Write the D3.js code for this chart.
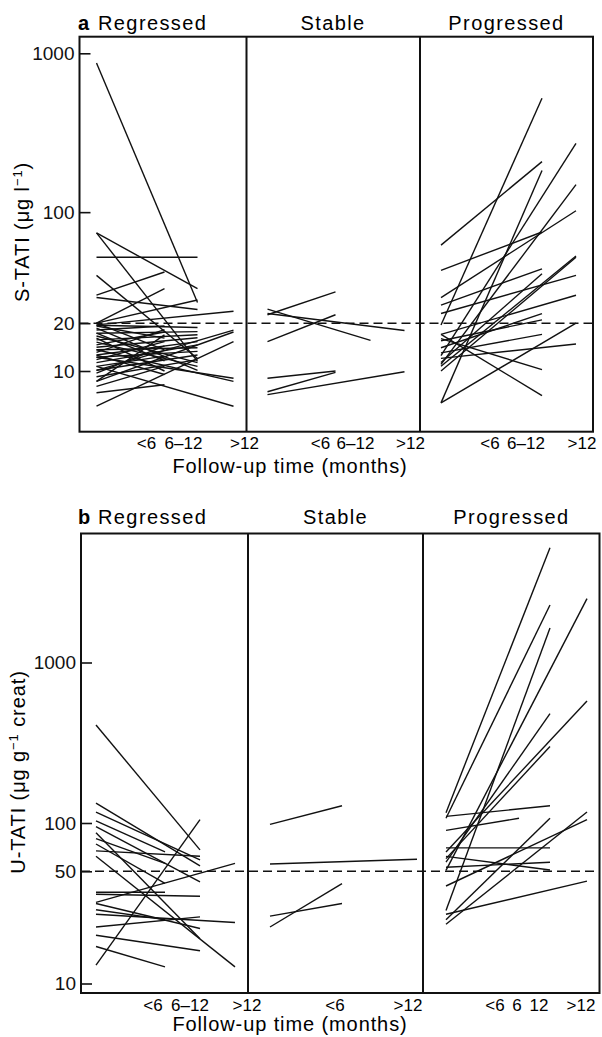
<!DOCTYPE html>
<html>
<head>
<meta charset="utf-8">
<script src="https://cdnjs.cloudflare.com/ajax/libs/d3/7.8.5/d3.min.js"></script>
<style>
  body { margin: 0; background: #fff; }
  svg { display: block; font-family: 'Liberation Sans', Arial, Helvetica, sans-serif; }
</style>
</head>
<body>
<div id="chart"></div>
<script>
// groups and labels
const groups = ['Regressed', 'Stable', 'Progressed']
const followA = ['<6', '6–12', '>12']
const followBReg = ['<6', '6–12', '>12']
const followBStable = ['<6', '>12']
const followBProg = ['<6', '6', '12', '>12']
const ticksA = [10, 20, 100, 1000]
const ticksB = [10, 50, 100, 1000]
const refA = 20
const refB = 50

// each line: [value at start, value at follow-up, follow-up group (0 = <6, 1 = 6-12, 2 = >12)]
const sRegressed = [
  [870, 27, 1], [74, 33, 1], [74, 11.5, 1], [52, 52, 1], [40, 12, 1],
  [29, 24.4, 1], [20, 28, 1], [19.4, 18.8, 1], [18.6, 10.1, 1], [17.3, 17.7, 1],
  [16.6, 11.3, 1], [15.7, 16.9, 1], [15.2, 10.7, 1], [14.1, 16.2, 1], [13.6, 14.0, 1],
  [12.6, 15.3, 1], [12.2, 13.3, 1], [11.3, 14.6, 1], [10.1, 12.6, 1], [9.2, 11.8, 1],
  [30, 42, 0], [20, 33, 0], [7.3, 8.2, 0], [20.0, 13.6, 0], [19.2, 16.1, 0],
  [18.1, 19.2, 0], [16.1, 10.0, 0], [14.6, 17.6, 0], [13.1, 18.2, 0], [11.8, 15.3, 0],
  [10.7, 12.4, 0], [9.7, 14.4, 0], [8.6, 16.9, 0], [8.0, 10.7, 0], [12.6, 9.5, 0],
  [17.3, 11.6, 0],
  [19.5, 23.8, 2], [10.1, 18.1, 2], [8.6, 17.6, 2], [6.0, 15.3, 2], [12.2, 9.0, 2],
  [13.6, 8.6, 2], [10.7, 6.0, 2]
]
const sStable = [
  [22.6, 31.5, 0], [24.5, 15.6, 1], [15.3, 22.6, 0], [23.0, 18.0, 2],
  [9.0, 10.0, 0], [7.4, 9.8, 0], [7.1, 9.9, 2]
]
const sProgressed = [
  [19.5, 521, 1], [62, 208, 1], [6.3, 183, 1], [43, 75, 1], [26, 44, 1],
  [11.3, 41, 1], [14, 23, 1], [13, 17, 1], [16, 10.2, 1], [17, 7.0, 1],
  [15.5, 21, 1],
  [12.5, 271, 2], [11, 149, 2], [29, 102, 2], [10.7, 53, 2], [10, 52, 2],
  [23, 40, 2], [17, 30, 2], [6.3, 20, 2], [12, 14.8, 2]
]
const uRegressed = [
  [408, 68, 1], [13, 105, 1], [17, 12.7, 0], [133, 54, 1], [117, 59, 1],
  [103, 66, 0], [95, 43, 1], [87, 19, 1], [80, 56, 0], [74, 42, 0],
  [67, 62, 1], [62, 12.7, 2], [37, 37, 0], [36, 35, 1], [32, 56, 2],
  [31.5, 22, 1], [28.8, 25, 0], [27, 24, 2], [22.5, 26, 1], [20, 16, 1]
]
const uStable = [
  [98, 128, 0], [55.5, 59.4, 2], [22.5, 41.9, 0], [26.3, 31.5, 0]
]
const uProgressed = [
  [116, 5190, 1], [107, 2280, 1], [28.5, 1640, 1], [50.7, 2500, 2], [66, 576, 2],
  [57, 480, 1], [60, 300, 1], [110, 128, 1], [90, 107, 0], [70, 70, 1],
  [62, 51, 1], [53, 57, 1], [40.5, 105, 2], [25, 107, 1], [23.4, 117, 2],
  [27, 43.4, 2]
]

const width = 602
const height = 1037

const svg = d3.select('#chart')
  .append('svg')
  .attr('width', width)
  .attr('height', height)

svg.append('rect').attr('width', width).attr('height', height).attr('fill', '#fff')

// layout of both panels
let panels = [
  {
    letter: 'a', left: 79.5, right: 593, top: 36.7, bottom: 431.7, dividers: [246.5, 420],
    y: d3.scaleLog().domain([10, 1000]).range([371, 53.3]),
    ticks: ticksA, ref: refA, titleY: 30, xLabelY: 449, axisTitleY: 473,
    yLabel: ['S-TATI (μg l', '−1', ')'], yLabelPos: [29, 232],
    sections: [
      { data: sRegressed, pos: [17, 85, 118, 154], labels: followA, labelPos: [67, 104, 165] },
      { data: sStable, pos: [21, 89, 124, 158], labels: followA, labelPos: [74, 109, 164] },
      { data: sProgressed, pos: [21, 88, 122, 156], labels: followA, labelPos: [70, 106, 162] }
    ],
    titlePos: [98, 333, 506.5]
  },
  {
    letter: 'b', left: 81, right: 599.5, top: 533.5, bottom: 993, dividers: [248, 423],
    y: d3.scaleLog().domain([10, 1000]).range([983.5, 662.5]),
    ticks: ticksB, ref: refB, titleY: 524, xLabelY: 1011, axisTitleY: 1031,
    yLabel: ['U-TATI (μg g', '−1', ' creat)'], yLabelPos: [25, 772],
    sections: [
      { data: uRegressed, pos: [15, 84, 119, 154], labels: followBReg, labelPos: [72, 109, 166] },
      { data: uStable, pos: [22, 94, 130, 169], labels: followBStable, labelPos: [87, 160] },
      { data: uProgressed, pos: [23, 96, 127, 164], labels: followBProg, labelPos: [72, 94, 116, 158] }
    ],
    titlePos: [98, 335.5, 511.5]
  }
]

panels.forEach((p) => {
  let g = svg.append('g')
  let lefts = [p.left].concat(p.dividers)

  // connecting lines, one per patient
  p.sections.forEach((s, i) => {
    let x = d3.scaleLinear()
      .domain([-1, 0, 1, 2])
      .range(s.pos.map((o) => lefts[i] + o))
    g.selectAll(null)
      .data(s.data)
      .enter()
      .append('line')
      .attr('x1', x(-1))
      .attr('y1', (d) => p.y(d[0]))
      .attr('x2', (d) => x(d[2]))
      .attr('y2', (d) => p.y(d[1]))
      .attr('stroke', '#111')
      .attr('stroke-width', 1.4)

    // follow-up time labels
    g.selectAll(null)
      .data(s.labels)
      .enter()
      .append('text')
      .attr('x', (d, j) => lefts[i] + s.labelPos[j])
      .attr('y', p.xLabelY)
      .attr('text-anchor', 'middle')
      .attr('font-size', 17)
      .text((d) => d)

    // group title
    g.append('text')
      .attr('x', p.titlePos[i])
      .attr('y', p.titleY)
      .attr('text-anchor', i == 0 ? 'start' : 'middle')
      .attr('font-size', 20)
      .attr('letter-spacing', 1.4)
      .text(groups[i])
  })

  // reference (upper normal limit)
  g.append('line')
    .attr('x1', p.left)
    .attr('x2', p.right)
    .attr('y1', p.y(p.ref))
    .attr('y2', p.y(p.ref))
    .attr('stroke', '#111')
    .attr('stroke-width', 1.5)
    .attr('stroke-dasharray', '9,5')

  // frame and dividers
  g.append('rect')
    .attr('x', p.left)
    .attr('y', p.top)
    .attr('width', p.right - p.left)
    .attr('height', p.bottom - p.top)
    .attr('fill', 'none')
    .attr('stroke', '#111')
    .attr('stroke-width', 2)
  g.selectAll(null)
    .data(p.dividers)
    .enter()
    .append('line')
    .attr('x1', (d) => d)
    .attr('x2', (d) => d)
    .attr('y1', p.top)
    .attr('y2', p.bottom)
    .attr('stroke', '#111')
    .attr('stroke-width', 2)

  // y axis, ticks drawn inward
  let yAxis = d3.axisLeft(p.y)
    .tickValues(p.ticks)
    .tickSize(-11)
    .tickPadding(5)
    .tickFormat(d3.format('d'))
  let ax = g.append('g')
    .attr('transform', `translate(${p.left},0)`)
    .call(yAxis)
  ax.select('.domain').remove()
  ax.selectAll('line').attr('stroke', '#111').attr('stroke-width', 1.6)
  ax.selectAll('text')
    .attr('font-size', 19)
    .attr('fill', '#111')
    .style('font-family', "'Liberation Sans', Arial, sans-serif")

  // panel letter
  g.append('text')
    .attr('x', 78)
    .attr('y', p.titleY)
    .attr('font-size', 20)
    .attr('font-weight', 'bold')
    .text(p.letter)

  // y axis title
  let yt = g.append('text')
    .attr('transform', `translate(${p.yLabelPos[0]},${p.yLabelPos[1]}) rotate(-90)`)
    .attr('text-anchor', 'middle')
    .attr('font-size', 20)
    .attr('letter-spacing', 0.9)
  yt.append('tspan').text(p.yLabel[0])
  yt.append('tspan').attr('font-size', 13).attr('dy', -7).text(p.yLabel[1])
  yt.append('tspan').attr('dy', 7).text(p.yLabel[2])

  // x axis title
  g.append('text')
    .attr('x', 290)
    .attr('y', p.axisTitleY)
    .attr('text-anchor', 'middle')
    .attr('font-size', 20)
    .attr('letter-spacing', 0.9)
    .text('Follow-up time (months)')
})
</script>
</body>
</html>
